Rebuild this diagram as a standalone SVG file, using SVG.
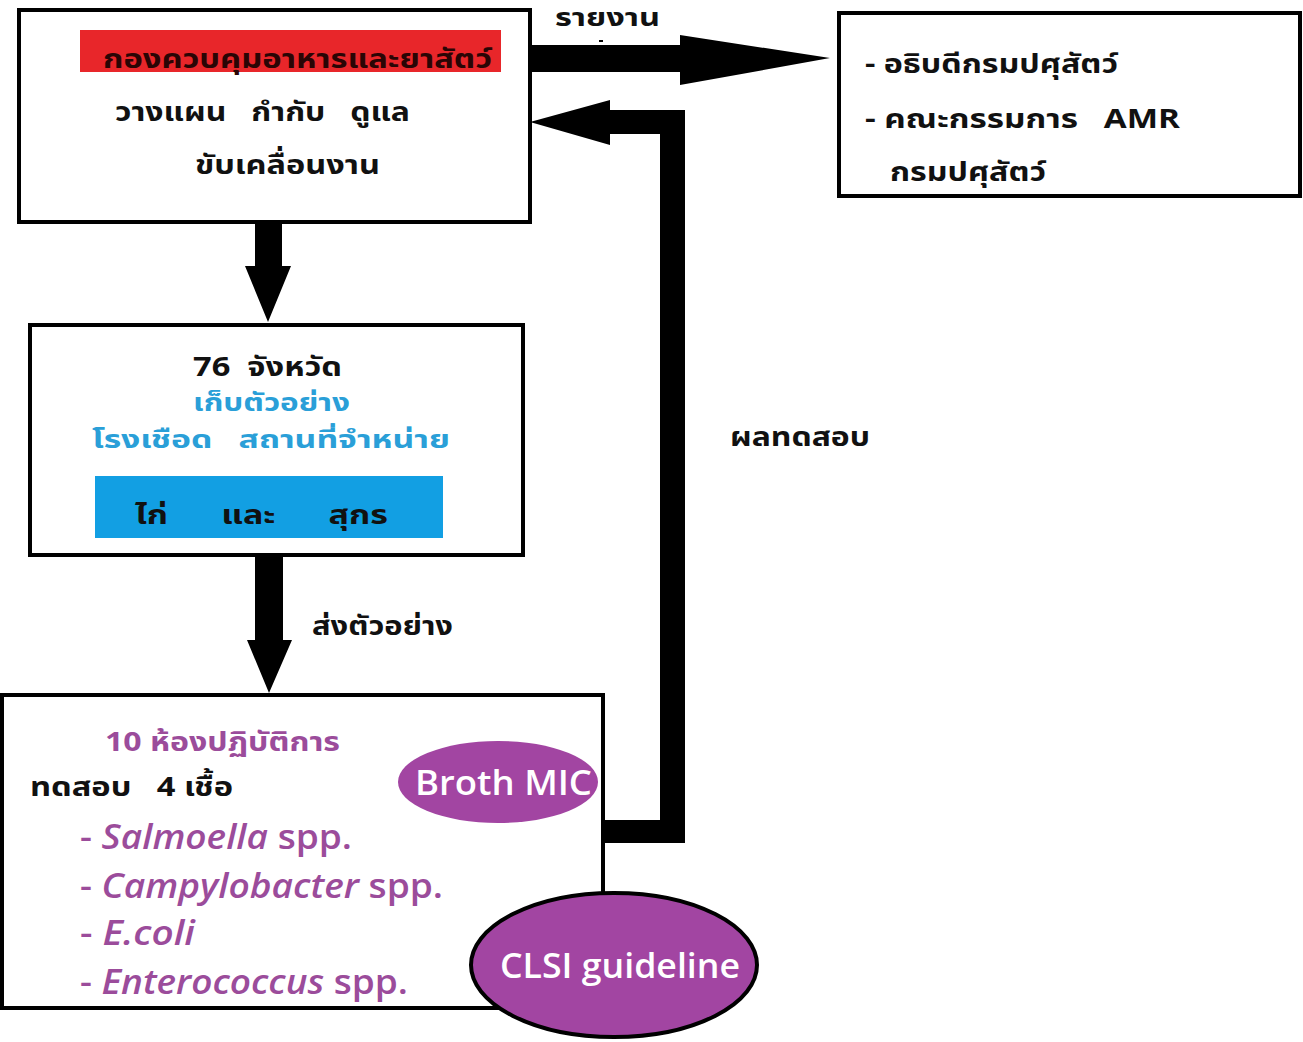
<svg xmlns="http://www.w3.org/2000/svg" width="1303" height="1042" viewBox="0 0 1303 1042">
<style>
text{white-space:pre}
.box{fill:#fff;stroke:#000;stroke-width:4}
.th{font-family:"Noto Sans Thai","Liberation Sans","DejaVu Sans",sans-serif;font-weight:bold;font-size:27px;fill:#111}
.blue{fill:#2a9fd8;font-size:24px}
.pur{fill:#9b4c9b}
.sp{font-family:"Open Sans","Liberation Sans",sans-serif;font-weight:600;font-size:35px;fill:#9b4c9b}
.ell{font-family:"Open Sans","Liberation Sans",sans-serif;font-weight:600;font-size:35px;fill:#fff}
.arr{fill:#000}
</style>
<rect width="1303" height="1042" fill="#fff"/>
<g id="connectors">
  <path class="arr" d="M530 45 H680 V35 L830 58 L680 85 V72 H530 Z"/>
  <path class="arr" d="M255 222 H282 V266 H291 L268 322 L245 266 H255 Z"/>
  <path class="arr" d="M255 555 H283 V640 H292 L269 693 L247 640 H255 Z"/>
  <path class="arr" d="M603 820 H660 V134 H610 V145 L530 122 L610 100 V110 H685 V843 H603 Z"/>
  <text class="th" x="555" y="26" style="font-size:24px" textLength="105" lengthAdjust="spacingAndGlyphs">รายงาน</text>
  <rect x="599" y="40" width="4" height="2" fill="#000"/>
  <text class="th" x="312" y="635" textLength="141" lengthAdjust="spacingAndGlyphs">ส่งตัวอย่าง</text>
  <text class="th" x="730" y="446" textLength="140" lengthAdjust="spacingAndGlyphs">ผลทดสอบ</text>
</g>
<g id="node-division">
  <rect class="box" x="19" y="10" width="511" height="212"/>
  <rect x="80" y="30" width="421" height="42" fill="#e8262a"/>
  <text class="th" x="103" y="68" textLength="389" lengthAdjust="spacingAndGlyphs" style="fill:#2a0505">กองควบคุมอาหารและยาสัตว์</text>
  <text class="th" x="115" y="121" textLength="295" lengthAdjust="spacingAndGlyphs">วางแผน   กำกับ   ดูแล</text>
  <text class="th" x="195" y="174" textLength="185" lengthAdjust="spacingAndGlyphs">ขับเคลื่อนงาน</text>
</g>
<g id="node-report">
  <rect class="box" x="839" y="13" width="461" height="183"/>
  <text class="th" x="865" y="73" textLength="253" lengthAdjust="spacingAndGlyphs">- อธิบดีกรมปศุสัตว์</text>
  <text class="th" x="865" y="128" textLength="315" lengthAdjust="spacingAndGlyphs">- คณะกรรมการ   AMR</text>
  <text class="th" x="890" y="181" textLength="156" lengthAdjust="spacingAndGlyphs">กรมปศุสัตว์</text>
</g>
<g id="node-province">
  <rect class="box" x="30" y="325" width="493" height="230"/>
  <text class="th" x="193" y="376" textLength="149" lengthAdjust="spacingAndGlyphs">76  จังหวัด</text>
  <text class="th blue" x="193" y="411" textLength="157" lengthAdjust="spacingAndGlyphs">เก็บตัวอย่าง</text>
  <text class="th blue" x="92" y="448" textLength="358" lengthAdjust="spacingAndGlyphs">โรงเชือด   สถานที่จำหน่าย</text>
  <rect x="95" y="476" width="348" height="62" fill="#129fe3"/>
  <text class="th" x="135" y="524" textLength="253" lengthAdjust="spacingAndGlyphs">ไก่      และ      สุกร</text>
</g>
<g id="node-lab">
  <rect class="box" x="2" y="695" width="601" height="313"/>
  <text class="th pur" x="105" y="751" textLength="235" lengthAdjust="spacingAndGlyphs">10 ห้องปฏิบัติการ</text>
  <text class="th" x="30" y="796" textLength="203" lengthAdjust="spacingAndGlyphs">ทดสอบ   4 เชื้อ</text>
  <text class="sp" x="80" y="849" textLength="272" lengthAdjust="spacingAndGlyphs">- <tspan font-style="italic">Salmoella</tspan> spp.</text>
  <text class="sp" x="80" y="898" textLength="363" lengthAdjust="spacingAndGlyphs">- <tspan font-style="italic">Campylobacter</tspan> spp.</text>
  <text class="sp" x="80" y="945" textLength="115" lengthAdjust="spacingAndGlyphs">- <tspan font-style="italic">E.coli</tspan></text>
  <text class="sp" x="80" y="994" textLength="328" lengthAdjust="spacingAndGlyphs">- <tspan font-style="italic">Enterococcus</tspan> spp.</text>
</g>
<g id="node-broth">
  <ellipse cx="498" cy="782" rx="100" ry="41" fill="#a245a2"/>
  <text class="ell" x="415" y="795" textLength="177" lengthAdjust="spacingAndGlyphs">Broth MIC</text>
</g>
<g id="node-clsi">
  <ellipse cx="614" cy="965" rx="143" ry="72" fill="#a245a2" stroke="#000" stroke-width="4"/>
  <text class="ell" x="500" y="978" textLength="240" lengthAdjust="spacingAndGlyphs">CLSI guideline</text>
</g>
</svg>
